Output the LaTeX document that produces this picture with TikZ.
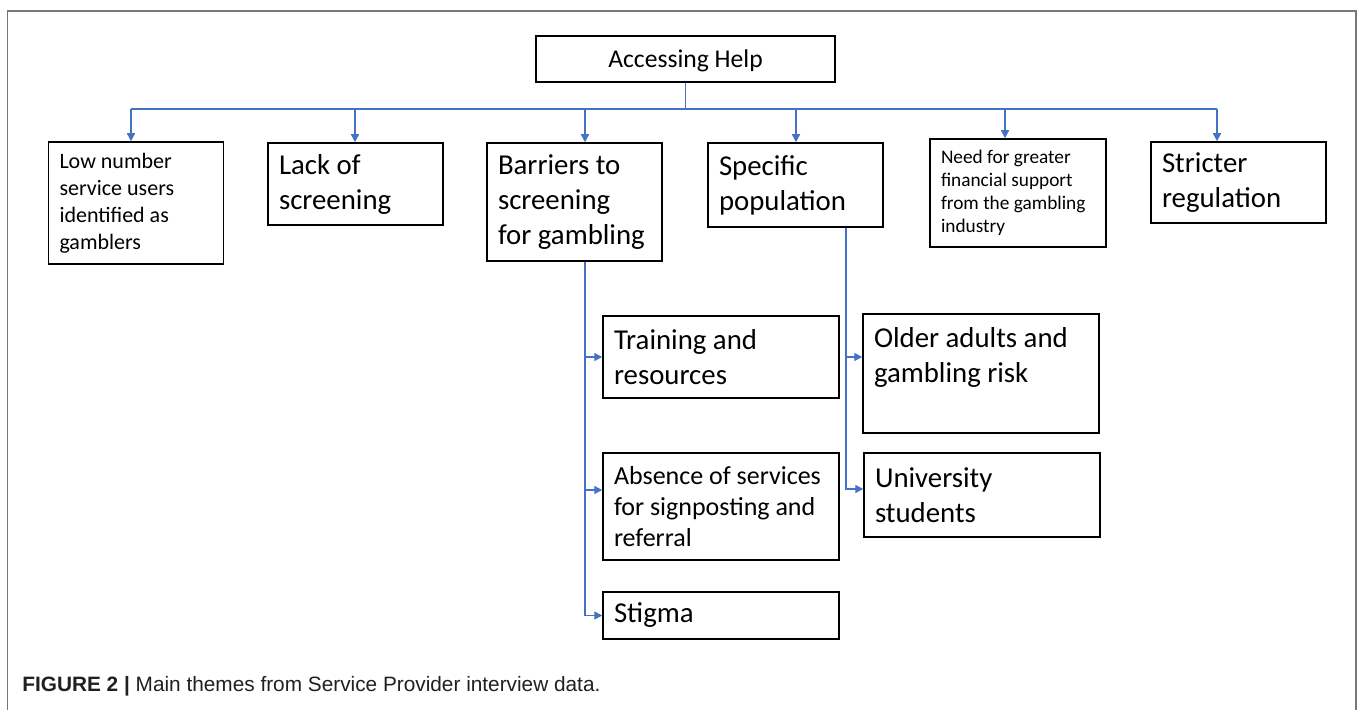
\documentclass[tikz,border=0pt]{standalone}
\usepackage{fontspec}
\setmainfont{Carlito}
\newfontfamily\capfont{Liberation Sans}
\usepackage{tikz}
\usetikzlibrary{arrows.meta}
\usepackage{xcolor}
\definecolor{link}{RGB}{68,114,196}
\definecolor{frame}{RGB}{120,120,120}
\definecolor{captxt}{RGB}{35,31,32}
\newcommand{\themefont}{\fontsize{14.4}{17.5}\selectfont}
\newcommand{\absfont}{\fontsize{13}{15.5}\selectfont}
\newcommand{\lowfont}{\fontsize{11}{13.5}\selectfont}
\newcommand{\needfont}{\fontsize{9.65}{11.5}\selectfont}
\newcommand{\topfont}{\fontsize{12.8}{15}\selectfont}

\begin{document}
\begin{tikzpicture}[x=0.5pt, y=-0.5pt,
 theme/.style={rectangle, draw=black, line width=0.75pt, inner xsep=5.5pt, inner ysep=0pt, align=flush left, text width=76.5pt, font=\themefont},
 wide/.style={theme, text width=107pt},
 topbox/.style={rectangle, draw=black, line width=0.75pt, inner sep=0pt, minimum width=149.5pt, minimum height=23pt, text depth=0pt, font=\topfont},
 wire/.style={draw=link, line width=0.7pt},
 arrow/.style={wire, -{Triangle[length=4pt, width=4pt]}}]

	\useasboundingbox (0,0) rectangle (1360,710);
	\draw[frame, line width=0.8pt] (7.5,710) -- (7.5,11) -- (1356,11) -- (1356,710);

	\node[topbox] (top) at (685.5,59) {Accessing Help};

	\node[theme, font=\lowfont, minimum height=61pt] (low) at (136,203) {Low number\\service users\\identified as\\gamblers};
	\node[theme, minimum height=41pt] (lack) at (355.5,184) {Lack of\\screening};
	\node[theme, minimum height=59pt] (barriers) at (574.5,202) {Barriers to\\screening\\for gambling};
	\node[theme, minimum height=42pt] (specific) at (795.5,185) {Specific\\population};
	\node[theme, font=\needfont, text width=77pt, minimum height=54pt] (need) at (1018,193) {Need for greater\\financial support\\from the gambling\\industry};
	\node[theme, minimum height=40.5pt] (stricter) at (1238.5,182.5) {Stricter\\regulation};

	\node[wide, minimum height=41pt] (training) at (721,357) {Training and\\resources};
	\node[wide, font=\absfont, minimum height=53.5pt] (absence) at (721,506.5) {Absence of services\\for signposting and\\referral};
	\node[wide, minimum height=23.5pt] (stigma) at (721,615.5) {Stigma};
	\node[wide, text height=17pt, text depth=42.5pt] (older) at (981,373.5) {Older adults and\\gambling risk};
	\node[wide, minimum height=42pt] (university) at (982,495) {University\\students};

	\node[anchor=base west, inner sep=0pt, font=\capfont\fontsize{10.4}{12}\selectfont, text=captxt] (caption) at (22,691) {\textbf{FIGURE 2 |} Main themes from Service Provider interview data.};

	\coordinate (bus) at (686,109);
	\draw[wire] (top.south) -- (top.south |- bus);
	\draw[wire] (bus -| 131,0) -- (bus -| 1217,0);
	\foreach \x/\n in {131/low, 355/lack, 585/barriers, 796/specific, 1005/need, 1217/stricter}
		\draw[arrow] (bus -| \x,0) -- (\n.north -| \x,0);

	\draw[arrow] (barriers.south -| 585,0) |- (stigma.west);
	\draw[arrow] (training.west -| 585,0) -- (training.west);
	\draw[arrow] ([yshift=8.25pt]absence.west -| 585,0) -- ([yshift=8.25pt]absence.west);

	\draw[arrow] (specific.south -| 846,0) |- ([yshift=3pt]university.west);
	\draw[arrow] ([yshift=8.25pt]older.west -| 846,0) -- ([yshift=8.25pt]older.west);
\end{tikzpicture}
\end{document}
